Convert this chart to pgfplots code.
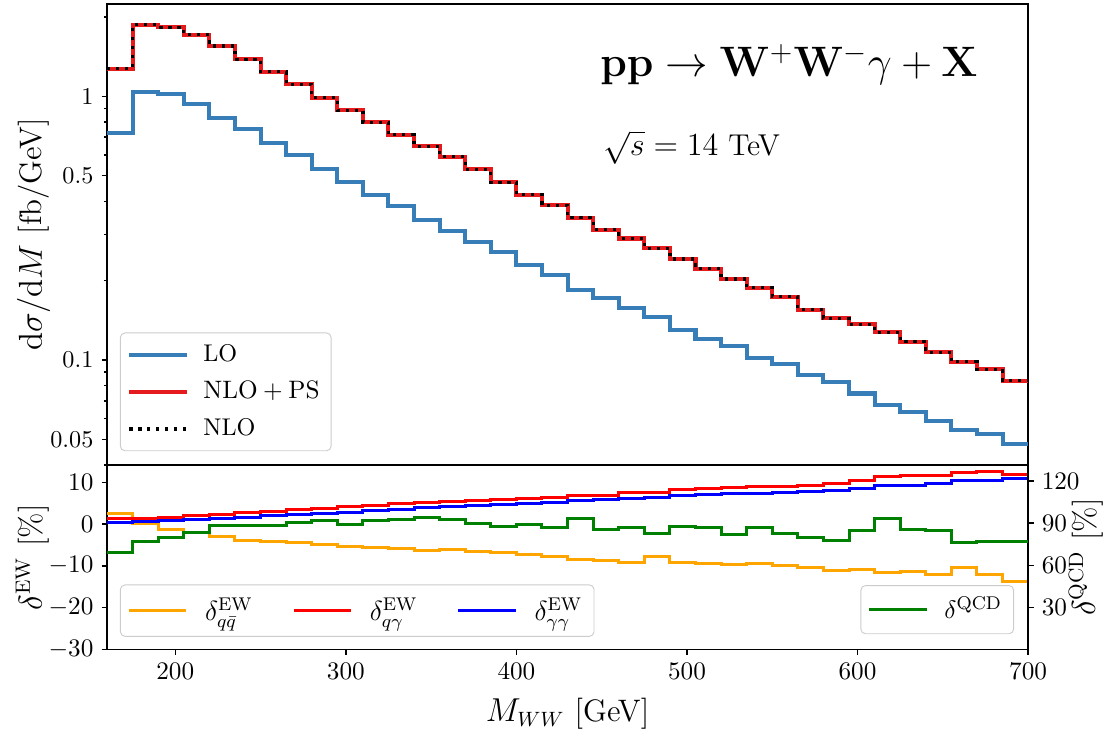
\documentclass[border=0pt]{standalone}
\usepackage{pgfplots}
\usepackage{pgfplotstable}
\pgfplotsset{compat=1.18}
\definecolor{loblue}{RGB}{55,126,184}
\definecolor{nlored}{RGB}{228,26,28}
\definecolor{mplorange}{RGB}{255,165,0}
\definecolor{mplgreen}{RGB}{0,128,0}
\newcommand{\ticksize}{\fontsize{10.5}{12.5}\selectfont}
\newcommand{\legsize}{\fontsize{12}{14}\selectfont}
\newcommand{\labsize}{\fontsize{13.5}{16}\selectfont}

\pgfplotstableread{
x lo nlo
160 0.728 1.274
175 1.038 1.867
190 1.018 1.825
205 0.932 1.711
220 0.830 1.553
235 0.749 1.382
250 0.667 1.241
265 0.597 1.111
280 0.528 0.989
295 0.472 0.885
310 0.424 0.798
325 0.383 0.715
340 0.3405 0.647
355 0.3074 0.590
370 0.280 0.528
385 0.2567 0.472
400 0.2284 0.424
415 0.2104 0.386
430 0.1845 0.346
445 0.1725 0.312
460 0.158 0.289
475 0.1453 0.265
490 0.130 0.2415
505 0.1202 0.222
520 0.1133 0.203
535 0.1022 0.188
550 0.0963 0.174
565 0.0877 0.155
580 0.0823 0.144
595 0.0747 0.1367
610 0.0674 0.1274
625 0.0636 0.1173
640 0.0588 0.107
655 0.0545 0.0985
670 0.0523 0.0922
685 0.0479 0.0834
700 0.0479 0.0834
}\toptab

\pgfplotstableread{
x qq qg gg qcd
160 2.57 1.37 0.41 69.1
175 0.17 1.37 0.57 76.7
190 -1.19 1.61 0.89 79.6
205 -2.06 2.01 1.13 83.4
220 -3.02 2.33 1.37 88.4
235 -3.82 2.73 1.69 88.1
250 -4.14 3.13 2.01 88.6
265 -4.46 3.54 2.33 90.5
280 -4.86 3.78 2.57 91.9
295 -5.26 4.18 2.89 89.3
310 -5.66 4.56 3.21 91.9
325 -5.90 4.96 3.61 92.5
340 -6.22 5.12 4.02 94.3
355 -5.98 5.36 4.26 92.9
370 -6.62 5.60 4.42 89.5
385 -6.78 5.92 4.74 87.6
400 -7.26 6.16 4.98 89.1
415 -7.66 6.40 5.12 86.7
430 -8.45 6.96 5.68 93.4
445 -8.77 6.96 5.84 85.5
460 -9.09 7.60 6.08 86.7
475 -7.81 7.60 6.40 82.4
490 -9.17 8.32 6.96 87.9
505 -9.33 8.56 7.12 87.0
520 -9.65 8.72 7.27 81.9
535 -9.49 8.96 7.35 86.7
550 -9.97 9.12 7.59 82.4
565 -10.37 9.35 7.91 79.6
580 -11.09 9.75 8.07 77.7
595 -10.77 10.55 8.56 85.0
610 -11.57 11.35 9.20 93.4
625 -11.25 11.59 9.35 85.7
640 -12.12 11.75 9.75 84.6
655 -10.29 12.39 10.39 76.2
670 -12.04 12.55 10.55 76.7
685 -13.80 11.91 10.95 76.7
700 -13.80 11.91 10.95 76.7
}\bottab

\begin{document}
\begin{tikzpicture}
\pgfplotsset{
  myaxis/.style={
    scale only axis, width=400.1pt,
    xmin=160, xmax=700,
    tick align=outside,
    major tick length=2.4pt, minor tick length=1.4pt,
    tick style={line width=0.6pt, black},
    axis line style={line width=0.6pt},
    tick label style={font=\ticksize},
    clip=false,
    legend cell align=left,
    legend image code/.code={\draw[##1] (0pt,0pt) -- (25pt,0pt);},
    every axis legend/.append style={draw=black!20, rounded corners=2pt, fill=white, fill opacity=0.8, text opacity=1, draw opacity=1, font=\ticksize},
  },
}
\begin{axis}[myaxis, name=top, at={(46.5pt,-1.7pt)}, anchor=north west,
  height=200.3pt,
  ymode=log, ymin=0.04, ymax=2.24,
  xtick=\empty,
  ytick={0.05,0.1,0.5,1}, yticklabels={0.05,0.1,0.5,1},
  minor ytick={0.04,0.06,0.07,0.08,0.09,0.2,0.3,0.4,0.6,0.7,0.8,0.9,2},
  ytick pos=left,
  legend style={at={(rel axis cs:0,0)}, anchor=south west, xshift=5.6pt, yshift=6pt, row sep=3.2pt, inner xsep=3pt, inner ysep=3pt,
    /tikz/every odd column/.append style={column sep=4.3pt}},
]
\addplot[const plot, loblue, line width=1.75pt] table[x=x, y=lo] {\toptab};
\addlegendentry{LO}
\addplot[const plot, nlored, line width=1.75pt] table[x=x, y=nlo] {\toptab};
\addlegendentry{$\mathrm{NLO+PS}$}
\addplot[const plot, black, line width=1.4pt, dash pattern=on 1.4pt off 2.5pt] table[x=x, y=nlo] {\toptab};
\addlegendentry{NLO}
\node[anchor=base west, inner sep=0pt, font=\fontsize{17}{20}\selectfont, scale=1.07, transform shape] at (rel axis cs:0.535,0.8416) {$\mathbf{pp\rightarrow W^{+}W^{-}\gamma+X}$};
\node[anchor=base west, inner sep=0pt, font=\labsize, scale=0.97, transform shape] at (rel axis cs:0.538,0.6703) {$\sqrt{s}=14$ TeV};
\node[rotate=90, anchor=base, font=\labsize] at (rel axis cs:-0.0707,0.5) {$\mathrm{d}\sigma/\mathrm{d}M$ [fb/GeV]};
\end{axis}

\begin{axis}[myaxis, name=bot, at={(top.south west)}, anchor=north west,
  height=80.1pt,
  ymin=-30, ymax=14.15,
  xtick={200,300,...,700},
  ytick={-30,-20,-10,0,10},
  ytick pos=left, xtick pos=bottom,
  legend columns=3,
  legend style={at={(rel axis cs:0,0)}, anchor=south west, xshift=5.6pt, yshift=5.5pt, inner xsep=3pt, inner ysep=3.5pt, font=\legsize,
    /tikz/every odd column/.append style={column sep=5.5pt},
    /tikz/every even column/.append style={column sep=15pt}},
]
\addplot[const plot, mplorange, line width=1.3pt] table[x=x, y=qq] {\bottab};
\addlegendentry{$\delta^{\mathrm{EW}}_{q\bar{q}}$}
\addplot[const plot, red, line width=1.3pt] table[x=x, y=qg] {\bottab};
\addlegendentry{$\delta^{\mathrm{EW}}_{q\gamma}$}
\addplot[const plot, blue, line width=1.3pt] table[x=x, y=gg] {\bottab};
\addlegendentry{$\delta^{\mathrm{EW}}_{\gamma\gamma}$}
\node[rotate=90, anchor=base, font=\labsize] at (rel axis cs:-0.0707,0.5) {$\delta^{\mathrm{EW}}$ [\%]};
\node[anchor=base, font=\labsize] at (rel axis cs:0.5,-0.3926) {$M_{WW}$ [GeV]};
\end{axis}

\begin{axis}[myaxis, at={(bot.south west)}, anchor=south west,
  height=80.1pt,
  ymin=0, ymax=131.4,
  axis x line=none, axis y line*=right,
  ytick={30,60,90,120},
  legend style={at={(rel axis cs:1,0)}, anchor=south east, xshift=-6.1pt, yshift=6.6pt, inner xsep=3pt, inner ysep=3pt, font=\fontsize{11}{13}\selectfont,
    /tikz/every odd column/.append style={column sep=5pt}},
]
\addplot[const plot, mplgreen, line width=1.3pt] table[x=x, y=qcd] {\bottab};
\addlegendentry{$\delta^{\mathrm{QCD}}$}
\node[rotate=90, anchor=base, font=\labsize] at (rel axis cs:1.0727,0.5) {$\delta^{\mathrm{QCD}}$ [\%]};
\end{axis}
\pgfresetboundingbox
\path[use as bounding box] (0,0) rectangle (480pt,-319.7pt);
\end{tikzpicture}
\end{document}
